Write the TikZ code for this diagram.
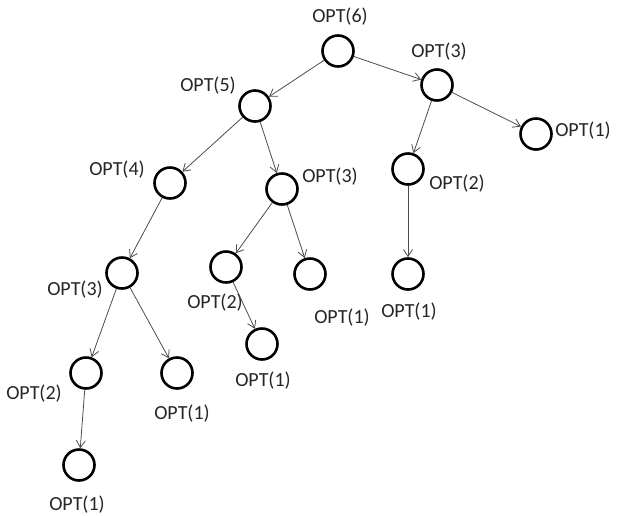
\documentclass[tikz,border=0pt]{standalone}
\usepackage{fontspec}
\setmainfont{Carlito}
\usetikzlibrary{arrows.meta}
\begin{document}
\begin{tikzpicture}[x=1pt,y=-1pt,
  state/.style={circle,draw=black,line width=2.6pt,minimum size=31pt,inner sep=0pt},
  lbl/.style={font=\fontsize{20}{22}\selectfont,text=black!85,inner sep=0pt},
  call/.style={draw=black!70,line width=0.8pt,-{Straight Barb[length=7pt,width=9pt]}}]
\useasboundingbox (0,0) rectangle (618,515);
% recursion tree nodes
\node[state] (n6)  at (338,51)  {};
\node[state] (n5)  at (255,106) {};
\node[state] (n3r) at (437,85)  {};
\node[state] (n1r) at (536,134) {};
\node[state] (n4)  at (170,183) {};
\node[state] (n3m) at (282,189) {};
\node[state] (n2r) at (408,169) {};
\node[state] (n3l) at (122,273) {};
\node[state] (n2m) at (226,267) {};
\node[state] (n1m) at (310,274) {};
\node[state] (n1rb) at (408,274) {};
\node[state] (n1s) at (262,344) {};
\node[state] (n2l) at (86,373)  {};
\node[state] (n1l) at (177,373) {};
\node[state] (n1b) at (79,465)  {};
% labels
\node[lbl] (t6)  at (340,17)  {OPT(6)};
\node[lbl] (t5)  at (208,86)  {OPT(5)};
\node[lbl] (t3r) at (439,52)  {OPT(3)};
\node[lbl] (t1r) at (583,131) {OPT(1)};
\node[lbl] (t4)  at (117,170) {OPT(4)};
\node[lbl] (t3m) at (330,177) {OPT(3)};
\node[lbl] (t2r) at (457,184) {OPT(2)};
\node[lbl] (t3l) at (75,290)  {OPT(3)};
\node[lbl] (t2m) at (215,303) {OPT(2)};
\node[lbl] (t1m) at (342,318) {OPT(1)};
\node[lbl] (t1rb) at (409,312) {OPT(1)};
\node[lbl] (t1s) at (263,381) {OPT(1)};
\node[lbl] (t2l) at (34,394)  {OPT(2)};
\node[lbl] (t1l) at (182,414) {OPT(1)};
\node[lbl] (t1b) at (77,505)  {OPT(1)};
% recursive calls
\draw[call] (n6) -- (n5);
\draw[call] (n6) -- (n3r);
\draw[call] (n5) -- (n4);
\draw[call] (n5) -- (n3m);
\draw[call] (n3r) -- (n2r);
\draw[call] (n3r) -- (n1r);
\draw[call] (n4) -- (n3l);
\draw[call] (n3m) -- (n2m);
\draw[call] (n3m) -- (n1m);
\draw[call] (n2r) -- (n1rb);
\draw[call] (n3l) -- (n2l);
\draw[call] (n3l) -- (n1l);
\draw[call] (n2m) -- (n1s);
\draw[call] (n2l) -- (n1b);
\end{tikzpicture}
\end{document}
